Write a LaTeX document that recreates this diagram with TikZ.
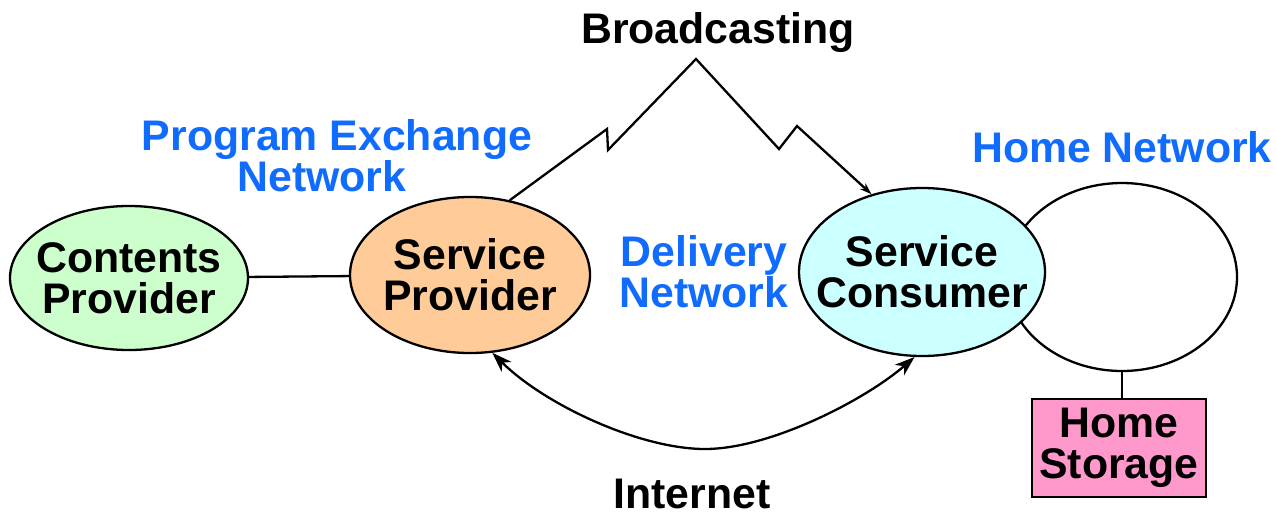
\documentclass[tikz,border=0pt]{standalone}
\usepackage{fontspec}
\setmainfont{Liberation Sans}
\usepackage{xcolor}
\definecolor{netblue}{RGB}{16,108,255}
\definecolor{cpgreen}{RGB}{204,255,204}
\definecolor{sporange}{RGB}{255,204,153}
\definecolor{sccyan}{RGB}{204,255,255}
\definecolor{hspink}{RGB}{255,153,204}
\usetikzlibrary{arrows.meta}
\usetikzlibrary{shapes.geometric}
\newcommand{\bigfont}{\fontsize{21.4}{20.5}\selectfont\bfseries}
\tikzset{
    >={Stealth[length=10pt, width=7pt, inset=3pt]},
    common/.style={draw, line width=1.15pt, align=center, font=\bigfont,
        execute at begin node={\rule{0pt}{19pt}}},
    party/.style={common, ellipse, inner xsep=-12pt, inner ysep=0pt},
    storebox/.style={common, rectangle, inner sep=0pt},
    netlabel/.style={text=netblue, font=\bigfont, align=center, inner sep=0pt},
    linklabel/.style={font=\bigfont, inner sep=0pt, anchor=base},
    link/.style={line width=1.15pt}
}

\begin{document}
\begin{tikzpicture}[x=0.5pt, y=-0.5pt]

    \useasboundingbox (0,0) rectangle (1277,514);

    \node[party, fill=white, minimum width=115pt, minimum height=94pt] (hn) at (1122,277) {};
    \node[party, fill=cpgreen, minimum width=119pt, minimum height=72pt] (cp) at (129,278) {Contents\\Provider};
    \node[party, fill=sporange, minimum width=120pt, minimum height=78pt] (sp) at (470,275) {Service\\Provider};
    \node[party, fill=sccyan, minimum width=123pt, minimum height=84pt] (sc) at (922,272) {Service\\Consumer};
    \node[storebox, fill=hspink, minimum width=87pt, minimum height=49pt] (hs) at (1119,448) {Home\\Storage};

    \node[netlabel] (pen) at (337,156) {Program Exchange\\Network\hspace*{15pt}};
    \node[netlabel] (dn) at (704,272) {Delivery\\Network};
    \node[netlabel, anchor=base] (hnl) at (1122,162) {Home Network};
    \node[linklabel] (bc) at (718,43) {Broadcasting};
    \node[linklabel] (inet) at (692,508) {Internet};

    \coordinate (inet-low) at (705,449);

    \draw[link] (cp) -- (sp);
    \draw[link] (hn.south) -- (hn.south |- hs.north);
    \draw[link, -{Stealth[length=6pt, width=4pt, inset=2pt]}] (sp.62) -- (607,129) -- (608,150) -- (696,59) -- (779,149) -- (797,126) -- (sc.123);
    \draw[link, <->] (sp.-74) .. controls (545,405) and (640,449) .. (inet-low)
                              .. controls (770,449) and (865,400) .. (sc.-95);

\end{tikzpicture}
\end{document}
